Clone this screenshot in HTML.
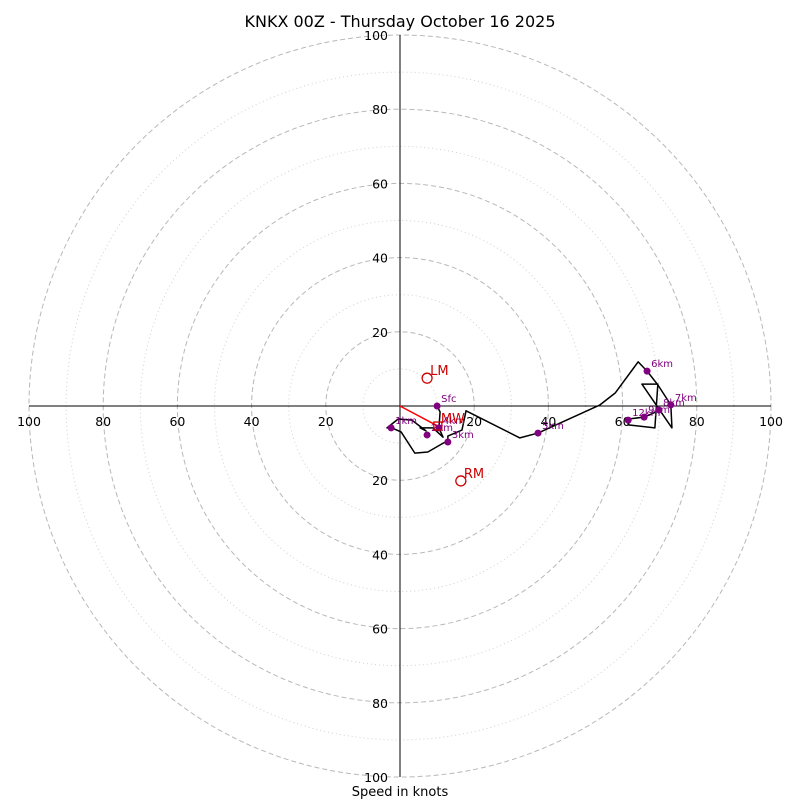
<!DOCTYPE html>
<html><head><meta charset="utf-8"><style>
body{margin:0;background:#fff}
svg{font-family:"DejaVu Sans","Liberation Sans",sans-serif}
</style></head><body>
<svg id="c" width="800" height="800" viewBox="0 0 800 800">
<text x="400" y="27" text-anchor="middle" font-size="16">KNKX 00Z - Thursday October 16 2025</text>
<text x="400" y="796" text-anchor="middle" font-size="13">Speed in knots</text>
<g id="grid"></g><g id="axes"></g><g id="trace"></g><g id="marks"></g>
</svg>
<script>
const ringValues=[10,20,30,40,50,60,70,80,90,100];
const tickLabels=[20,40,60,80,100];
const traceU=[10.0,10.8,10.5,11.6,8.9,5.4,7.0,3.2,-0.5,-3.5,-2.2,0.3,4.0,7.5,11.3,12.9,12.9,16.7,17.8,32.3,37.2,53.9,58.0,64.2,66.6,69.5,73.0,73.3,65.2,69.5,68.7,61.5,61.5,65.8,70.1];
const traceV=[0,-1.6,-5.9,-8.4,-5.9,-5.9,-6.7,-3.8,-3.5,-5.9,-5.9,-7.0,-12.7,-12.4,-10.2,-9.4,-8.1,-6.5,-1.3,-8.6,-7.3,0.3,3.5,11.9,9.4,5.7,0.3,-5.9,5.9,5.9,-5.9,-5.1,-3.5,-3.0,-1.1];
const markerLabels=["Sfc","1km","2km","3km","4km","5km","6km","7km","8km","9km","12km"];
const markerU=[10,-2.4,7.3,12.9,10.5,37.2,66.6,73,69.8,65.8,61.5];
const markerV=[0,-5.9,-7.8,-9.7,-5.9,-7.3,9.4,0.3,-1.1,-3.0,-3.8];
const stormLabels=["LM","RM","MW"];
const stormU=[7.3,16.4,10.2];
const stormV=[7.5,-20.2,-5.4];
const cx=400,cy=406,k=3.71;
const X=u=>cx+u*k, Y=v=>cy-v*k;
const NS="http://www.w3.org/2000/svg";
function mk(t,a,p){const e=document.createElementNS(NS,t);for(const n in a)e.setAttribute(n,a[n]);p.appendChild(e);return e;}
const g=document.getElementById('grid'),ax=document.getElementById('axes'),tr=document.getElementById('trace'),mg=document.getElementById('marks');
ringValues.forEach(r=>{const e=mk('circle',{cx:cx,cy:cy,r:r*k,fill:'none',stroke:r%20?'#d0d0d0':'#b8b8b8','stroke-width':1,'stroke-dasharray':r%20?'1,3':'5,3'},g);

});
let e=mk('line',{x1:X(-100),y1:cy,x2:X(100),y2:cy,stroke:'#000'},ax);


e=mk('line',{x1:cx,y1:Y(100),x2:cx,y2:Y(-100),stroke:'#000'},ax);


tickLabels.forEach(t=>{[t,-t].forEach(s=>{
 let a=mk('text',{x:X(s),y:cy+20,'text-anchor':'middle','font-size':12.5},ax);a.textContent=t;
 
 
 let b=mk('text',{x:cx-12,y:Y(s)+5,'text-anchor':'end','font-size':12.5},ax);b.textContent=t;
 
 });});
e=mk('polyline',{points:traceU.map((u,i)=>X(u)+','+Y(traceV[i])).join(' '),fill:'none',stroke:'#000','stroke-width':1.5,'stroke-linejoin':'round'},tr);


e=mk('line',{x1:cx,y1:cy,x2:X(stormU[2]),y2:Y(stormV[2]),stroke:'red','stroke-width':1.5},tr);


markerU.forEach((u,i)=>{let c=mk('circle',{cx:X(u),cy:Y(markerV[i]),r:3.5,fill:'purple'},mg);
 
 
 let t=mk('text',{x:X(u)+4,y:Y(markerV[i])-4,'font-size':10,fill:'purple'},mg);t.textContent=markerLabels[i];
 
 });
stormU.forEach((u,i)=>{let c;
 if(i<2)c=mk('circle',{cx:X(u),cy:Y(stormV[i]),r:5,fill:'none',stroke:'#c00','stroke-width':1.3},mg);
 else c=mk('rect',{x:X(u)-4,y:Y(stormV[i])-4,width:8,height:8,fill:'none',stroke:'#c00','stroke-width':1.3},mg);
 
 
 let t=mk('text',{x:X(u)+3,y:Y(stormV[i])-3,'font-size':13,fill:'#c00'},mg);t.textContent=stormLabels[i];
 
 });
</script>
</body></html>
